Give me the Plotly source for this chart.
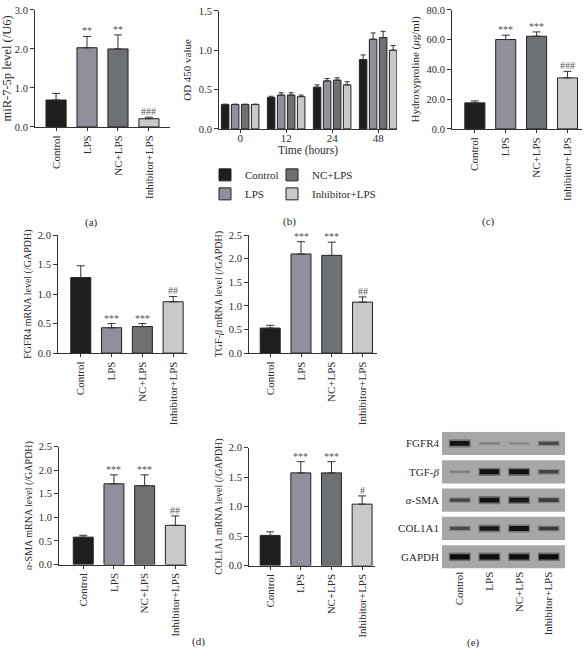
import plotly.graph_objects as go

W, H = 588, 661

# ---------------- data ----------------
groups = ["Control", "LPS", "NC+LPS", "Inhibitor+LPS"]
group_colors = ["#1e1e1e", "#8f909b", "#6e7174", "#c9c9ca"]

# (a) miR-7-5p
mir_mean = [0.69, 2.03, 2.00, 0.21]
mir_err = [0.17, 0.29, 0.36, 0.04]
mir_sig = ["", "**", "**", "###"]

# (b) OD 450 over time
time_labels = ["0", "12", "24", "48"]
od_control = [0.31, 0.40, 0.53, 0.88]
od_lps = [0.31, 0.43, 0.61, 1.14]
od_nc = [0.31, 0.43, 0.62, 1.16]
od_inh = [0.31, 0.41, 0.56, 1.00]
od_control_err = [0.005, 0.015, 0.03, 0.06]
od_lps_err = [0.005, 0.03, 0.03, 0.08]
od_nc_err = [0.005, 0.03, 0.03, 0.08]
od_inh_err = [0.005, 0.02, 0.04, 0.06]
od_control_sig = ["", "", "", ""]
od_lps_sig = ["", "", "*", "**"]
od_nc_sig = ["", "", "*", "**"]
od_inh_sig = ["", "", "#", "#"]

# (c) Hydroxyproline
hyp_mean = [17.5, 60.1, 62.3, 34.3]
hyp_err = [1.3, 2.9, 2.9, 4.4]
hyp_sig = ["", "***", "***", "###"]

# (d) mRNA levels
fgfr4_mean = [1.28, 0.43, 0.45, 0.87]
fgfr4_err = [0.20, 0.07, 0.05, 0.09]
fgfr4_sig = ["", "***", "***", "##"]
tgfb_mean = [0.53, 2.10, 2.07, 1.08]
tgfb_err = [0.06, 0.26, 0.28, 0.11]
tgfb_sig = ["", "***", "***", "##"]
asma_mean = [0.58, 1.71, 1.67, 0.83]
asma_err = [0.04, 0.19, 0.23, 0.20]
asma_sig = ["", "***", "***", "##"]
col1a1_mean = [0.51, 1.57, 1.57, 1.04]
col1a1_err = [0.06, 0.19, 0.19, 0.14]
col1a1_sig = ["", "***", "***", "#"]

# (e) western blot band intensities (0 = none, 1 = strongest)
blot_labels = ["FGFR4", "TGF-<i>β</i>", "<i>α</i>-SMA", "COL1A1", "GAPDH"]
band_fgfr4 = [0.92, 0.10, 0.08, 0.45]
band_tgfb = [0.12, 0.95, 0.95, 0.50]
band_asma = [0.50, 0.95, 0.88, 0.55]
band_col1a1 = [0.45, 0.88, 0.92, 0.58]
band_gapdh = [1.0, 1.0, 1.0, 1.0]

# ---------------- style ----------------
FONT = "Liberation Serif"
TXT = "#2b2b2b"
AX = "#333333"
SIG = "#555555"


def dx(p0, p1):
    return [p0 / W, p1 / W]


def dy(top, bottom):
    return [1 - bottom / H, 1 - top / H]


fig = go.Figure()
layout = {}
annotations = []


def axes(n, xdom, ydom, xrange, yrange, dtick, fmt, ytitle, tsize, xtitle=None):
    sfx = "" if n == 1 else str(n)
    layout["xaxis" + sfx] = dict(
        domain=dx(*xdom), range=xrange, anchor="y" + sfx, type="category",
        showline=True, linecolor=AX, linewidth=1, ticks="outside", ticklen=3,
        tickcolor=AX, tickangle=-90 if xtitle is None else 0,
        tickfont=dict(family=FONT, size=11, color=TXT), showgrid=False,
        zeroline=False, fixedrange=True,
        ticklabelstandoff=0 if xtitle is None else -4,
        title=dict(text=xtitle or "", font=dict(family=FONT, size=11.5, color=TXT), standoff=2),
    )
    layout["yaxis" + sfx] = dict(
        domain=dy(*ydom), range=yrange, anchor="x" + sfx, dtick=dtick,
        tickformat=fmt, showline=True, linecolor=AX, linewidth=1,
        ticks="outside", ticklen=4, tickcolor=AX,
        tickfont=dict(family=FONT, size=10.5, color=TXT), showgrid=False,
        zeroline=False, fixedrange=True,
        title=dict(text=ytitle, font=dict(family=FONT, size=tsize, color=TXT), standoff=4),
    )
    return "x" + sfx, "y" + sfx


def bar_panel(n, xdom, ydom, xrange, yrange, dtick, fmt, ytitle, tsize, mean, err, sig):
    xa, ya = axes(n, xdom, ydom, xrange, yrange, dtick, fmt, ytitle, tsize)
    fig.add_trace(go.Bar(
        x=groups, y=mean, xaxis=xa, yaxis=ya, width=0.65, showlegend=False,
        marker=dict(color=group_colors, line=dict(color="#222222", width=1)),
        error_y=dict(type="data", array=err, arrayminus=[0] * len(err), symmetric=False,
                     color=AX, thickness=1, width=4),
    ))
    for g, m, e, s in zip(groups, mean, err, sig):
        if s:
            annotations.append(dict(
                x=g, y=m + e, xref=xa, yref=ya, text=s, showarrow=False,
                yanchor="bottom", yshift=-2,
                font=dict(family=FONT, size=10, color=SIG)))


# (a)
bar_panel(1, (35, 170), (5, 124), [-0.68, 3.68], [0, 3], 1, ".1f",
          "miR-7-5p level (/U6)", 12.5, mir_mean, mir_err, mir_sig)

# (b)
xb, yb = axes(2, (219, 397), (6, 126), [-0.46, 3.41], [0, 1.5], 0.5, ".1f",
              "OD 450 value", 11, xtitle="Time (hours)")
b_series = [
    ("Control", od_control, od_control_err, od_control_sig, "legend", 1),
    ("LPS", od_lps, od_lps_err, od_lps_sig, "legend", 2),
    ("NC+LPS", od_nc, od_nc_err, od_nc_sig, "legend2", 1),
    ("Inhibitor+LPS", od_inh, od_inh_err, od_inh_sig, "legend2", 2),
]
slot_px = 10
for i, (name, vals, errs, sigs, leg, rank) in enumerate(b_series):
    fig.add_trace(go.Bar(
        x=time_labels, y=vals, name=name, xaxis=xb, yaxis=yb, legend=leg, legendrank=rank,
        marker=dict(color=group_colors[i], line=dict(color="#222222", width=1)),
        error_y=dict(type="data", array=errs, arrayminus=[0] * 4, symmetric=False,
                     color=AX, thickness=1, width=2.5),
    ))
    for t, v, e, s in zip(time_labels, vals, errs, sigs):
        if s:
            annotations.append(dict(
                x=t, y=v + e, xref=xb, yref=yb, text=s, showarrow=False,
                xshift=(i - 1.5) * slot_px, yanchor="bottom", yshift=-3,
                font=dict(family=FONT, size=9.5, color=SIG)))

# (c)
bar_panel(3, (452, 582), (5, 126), [-0.74, 3.47], [0, 80], 20, ".1f",
          "Hydroxyproline (<i>μ</i>g/ml)", 11, hyp_mean, hyp_err, hyp_sig)

# (d)
bar_panel(4, (58, 187), (234, 354), [-0.74, 3.45], [0, 2], 0.5, ".1f",
          "FGFR4 mRNA level (/GAPDH)", 10, fgfr4_mean, fgfr4_err, fgfr4_sig)
bar_panel(5, (249, 377), (234, 354), [-0.69, 3.47], [0, 2.5], 0.5, ".1f",
          "TGF-<i>β</i> mRNA level (/GAPDH)", 10, tgfb_mean, tgfb_err, tgfb_sig)
bar_panel(6, (59, 187), (449, 569), [-0.79, 3.38], [0, 2.5], 0.5, ".1f",
          "<i>α</i>-SMA mRNA level (/GAPDH)", 10, asma_mean, asma_err, asma_sig)
bar_panel(7, (249, 375), (450, 570), [-0.69, 3.42], [0, 2], 0.5, ".1f",
          "COL1A1 mRNA level (/GAPDH)", 10, col1a1_mean, col1a1_err, col1a1_sig)

# (e) western blot
BX0, BX1 = -0.6, 3.55
layout["xaxis8"] = dict(
    domain=dx(442, 565), range=[BX0, BX1], anchor="y8", type="category",
    showline=False, ticks="", tickangle=-90, showgrid=False, zeroline=False,
    tickfont=dict(family=FONT, size=11, color=TXT), fixedrange=True)
layout["yaxis8"] = dict(
    domain=dy(434, 573), range=[4.41, -0.41], anchor="x8", showline=False,
    ticks="", tickvals=list(range(len(blot_labels))), ticktext=blot_labels,
    showgrid=False, zeroline=False, tickfont=dict(family=FONT, size=11, color=TXT),
    ticklabelstandoff=2, fixedrange=True)
shapes = []
band_rows = [band_fgfr4, band_tgfb, band_asma, band_col1a1, band_gapdh]
for r, row in enumerate(band_rows):
    shapes.append(dict(type="rect", xref="x8", yref="y8", x0=BX0, x1=BX1,
                       y0=r - 0.41, y1=r + 0.41, fillcolor="#a7a7a7",
                       line=dict(width=0), layer="below"))
    # soft halo then dense core of each band (thickness & darkness follow intensity)
    for layer_w, layer_t, layer_a in [(0.74, 0.30, 0.35), (0.66, 0.18, 1.0)]:
        th = [layer_t * (0.35 + 0.65 * v) for v in row]
        fig.add_trace(go.Bar(
            x=groups, y=th, base=[r - t / 2 for t in th], xaxis="x8", yaxis="y8",
            width=layer_w, offset=-layer_w / 2, showlegend=False, hoverinfo="skip",
            marker=dict(color=[f"rgba(12,12,12,{layer_a * (0.1 + 0.9 * v):.2f})" for v in row],
                        line=dict(width=0)),
        ))

# panel letters
for txt, px, py in [("(a)", 83, 213), ("(b)", 289, 212), ("(c)", 497, 212),
                    ("(d)", 198, 656), ("(e)", 482, 657)]:
    annotations.append(dict(x=px / W, y=1 - py / H, xref="paper", yref="paper",
                            text=txt, showarrow=False,
                            font=dict(family=FONT, size=11, color=TXT)))

legend_common = dict(
    bgcolor="rgba(0,0,0,0)", font=dict(family=FONT, size=11, color=TXT),
    xanchor="left", yanchor="top", orientation="v", tracegroupgap=0,
    itemwidth=30, traceorder="normal")
layout["legend"] = dict(x=205 / W, y=1 - 158 / H, **legend_common)
layout["legend2"] = dict(x=272 / W, y=1 - 158 / H, **legend_common)

fig.update_layout(
    width=W, height=H, margin=dict(l=0, r=0, t=0, b=0),
    paper_bgcolor="white", plot_bgcolor="white",
    barmode="group", bargap=0.13, bargroupgap=0.25,
    font=dict(family=FONT, color=TXT),
    annotations=annotations, shapes=shapes, **layout)

fig.write_html(
    "out.html",
    config={"displayModeBar": False},
    post_script="document.body.style.margin='0';document.body.style.overflow='hidden';",
)
